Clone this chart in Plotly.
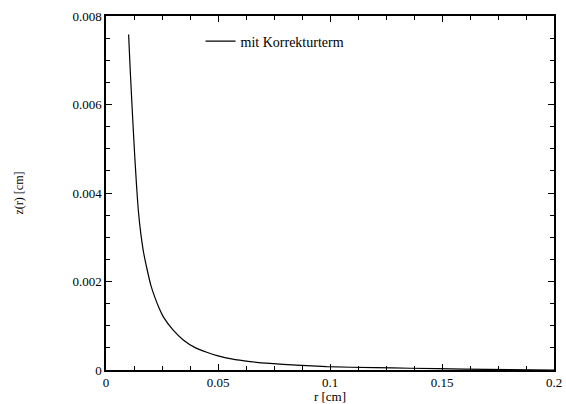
import plotly.graph_objects as go

# data
r_vals = [0.0101, 0.0107, 0.0113, 0.0120, 0.0128, 0.0136, 0.0144, 0.0155, 0.0168,
          0.0184, 0.0200, 0.0219, 0.0237, 0.0256, 0.0300, 0.0345, 0.0400, 0.0450,
          0.0500, 0.0560, 0.0643, 0.0732, 0.0850, 0.0985, 0.1200, 0.1357, 0.1600,
          0.1800, 0.2000]
z_vals = [0.00758, 0.00690, 0.00629, 0.00560, 0.00486, 0.00420, 0.00362, 0.00310, 0.00265,
          0.00226, 0.00192, 0.00163, 0.00140, 0.00120, 0.00090, 0.00068, 0.00050, 0.00040,
          0.00032, 0.00025, 0.00019, 0.000148, 0.00011, 0.000075, 0.000052, 0.000040, 0.000022,
          0.000010, 0.0]
series_name = "mit Korrekturterm"
x_tickvals = [0, 0.05, 0.1, 0.15, 0.2]
x_ticktext = ["0", "0.05", "0.1", "0.15", "0.2"]
y_tickvals = [0, 0.002, 0.004, 0.006, 0.008]
y_ticktext = ["0", "0.002", "0.004", "0.006", "0.008"]

font_family = "Times New Roman, Times, Liberation Serif, serif"

fig = go.Figure()
fig.add_trace(go.Scatter(x=r_vals, y=z_vals, mode="lines", name=series_name,
                         line=dict(color="black", width=1.2, shape="spline", smoothing=0.5)))

axis_common = dict(showgrid=False, zeroline=False, showline=True, linecolor="black",
                   linewidth=1.5, mirror="ticks", ticks="inside", ticklen=6,
                   tickcolor="black", tickwidth=1, automargin=False,
                   tickfont=dict(family=font_family, size=13, color="black"))

fig.update_xaxes(range=[0, 0.2], tickvals=x_tickvals, ticktext=x_ticktext,
                 minor=dict(dtick=0.0125, ticks="inside", ticklen=4, tickcolor="black"),
                 title=dict(text="r [cm]", standoff=3,
                            font=dict(family=font_family, size=13, color="black")),
                 **axis_common)
fig.update_yaxes(range=[0, 0.008], tickvals=y_tickvals, ticktext=y_ticktext,
                 minor=dict(dtick=0.0005, ticks="inside", ticklen=4, tickcolor="black"),
                 title=dict(text="z(r) [cm]", standoff=46,
                            font=dict(family=font_family, size=12, color="black")),
                 **axis_common)

fig.update_layout(
    width=566, height=404,
    margin=dict(l=106, r=12, t=16, b=34),
    paper_bgcolor="white", plot_bgcolor="white",
    showlegend=True,
    legend=dict(x=0.211, y=0.973, xanchor="left", yanchor="top",
                bgcolor="rgba(0,0,0,0)", borderwidth=0,
                font=dict(family=font_family, size=14, color="black")),
)

fig.write_html("out.html")
